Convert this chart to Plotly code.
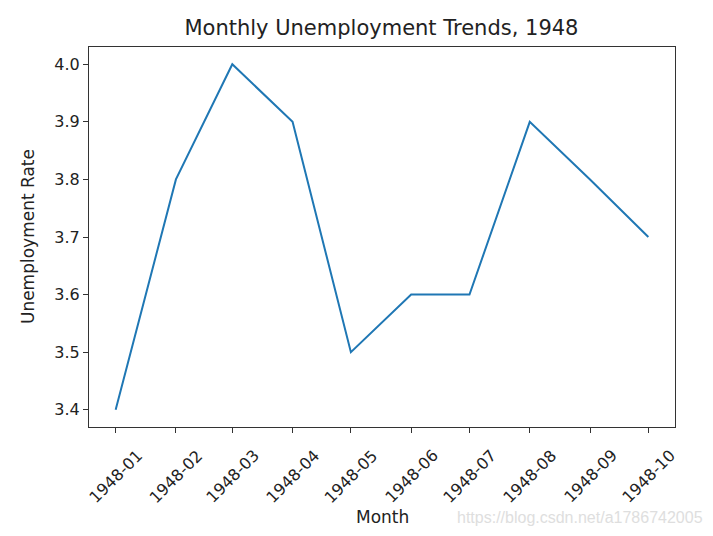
import plotly.graph_objects as go

months = ["1948-01", "1948-02", "1948-03", "1948-04", "1948-05",
          "1948-06", "1948-07", "1948-08", "1948-09", "1948-10"]
rates = [3.4, 3.8, 4.0, 3.9, 3.5, 3.6, 3.6, 3.9, 3.8, 3.7]
dates = [m + "-01" for m in months]
y_ticks = [3.4, 3.5, 3.6, 3.7, 3.8, 3.9, 4.0]

FONT = "DejaVu Sans"
TXT = "#222"

fig = go.Figure()
fig.add_trace(go.Scatter(x=dates, y=rates, mode="lines",
                         line=dict(color="#1f77b4", width=2)))

annotations = [dict(x=d, y=-0.129, xref="x", yref="paper", text=m,
                    showarrow=False, textangle=-45,
                    xanchor="center", yanchor="middle",
                    font=dict(family=FONT, size=16, color=TXT))
               for d, m in zip(dates, months)]
# axis titles
annotations.append(dict(x=0.5, y=-0.237, xref="paper", yref="paper", text="Month",
                        showarrow=False, xanchor="center", yanchor="middle",
                        font=dict(family=FONT, size=17, color=TXT)))
annotations.append(dict(x=-0.104, y=0.5, xref="paper", yref="paper",
                        text="Unemployment Rate", textangle=-90,
                        showarrow=False, xanchor="center", yanchor="middle",
                        font=dict(family=FONT, size=17, color=TXT)))
annotations.append(dict(x=0.838, y=-0.237, xref="paper", yref="paper",
                        text="https://blog.csdn.net/a1786742005", showarrow=False,
                        xanchor="center", yanchor="middle",
                        font=dict(family="Liberation Sans Narrow, Liberation Sans",
                                  size=16, color="#dedede")))

fig.update_layout(
    width=713, height=536,
    margin=dict(l=89, r=38, t=47, b=109),
    paper_bgcolor="white", plot_bgcolor="white",
    showlegend=False,
    title=dict(text="Monthly Unemployment Trends, 1948", x=0.535, xanchor="center",
               y=0.948, yanchor="middle",
               font=dict(family=FONT, size=21, color=TXT)),
    font=dict(family=FONT, size=16, color=TXT),
    annotations=annotations,
    xaxis=dict(type="date", range=["1947-12-18 07:00", "1948-10-14 17:00"],
               tickvals=dates, showticklabels=False,
               ticks="outside", ticklen=5, tickcolor="#333", tickwidth=1,
               showline=True, linecolor="#333", linewidth=1, mirror=True,
               showgrid=False, zeroline=False),
    yaxis=dict(range=[3.37, 4.03], tickvals=y_ticks,
               ticktext=[f"{v:.1f}" for v in y_ticks],
               ticks="outside", ticklen=5, tickcolor="#333", tickwidth=1,
               showline=True, linecolor="#333", linewidth=1, mirror=True,
               showgrid=False, zeroline=False,
               tickfont=dict(family=FONT, size=16, color=TXT)),
)

fig.write_html("out.html")
